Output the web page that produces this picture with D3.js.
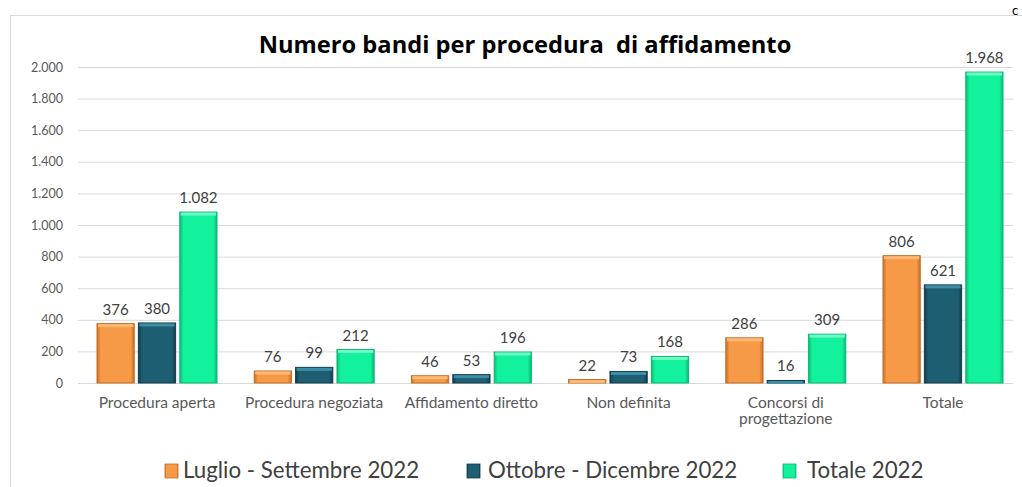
<!DOCTYPE html>
<html>
<head>
<meta charset="utf-8">
<script src="https://cdn.jsdelivr.net/npm/d3@7"></script>
<style>
  html, body { margin: 0; padding: 0; background: #fff; }
  svg { display: block; }
</style>
</head>
<body>
<svg id="chart" width="1022" height="487"></svg>
<script>
const categories = ["Procedura aperta", "Procedura negoziata", "Affidamento diretto", "Non definita", "Concorsi di progettazione", "Totale"];
const categoryLines = [["Procedura aperta"], ["Procedura negoziata"], ["Affidamento diretto"], ["Non definita"], ["Concorsi di", "progettazione"], ["Totale"]];
const seriesNames = ["Luglio - Settembre 2022", "Ottobre - Dicembre 2022", "Totale 2022"];
const lugSet = [376, 76, 46, 22, 286, 806];
const ottDic = [380, 99, 53, 73, 16, 621];
const tot2022 = [1082, 212, 196, 168, 309, 1968];
const yTicks = [0, 200, 400, 600, 800, 1000, 1200, 1400, 1600, 1800, 2000];
const seriesValues = [lugSet, ottDic, tot2022];
const colors = [
  { base: "#F79A47", light: "#FDB874", dark: "#C46E26" },
  { base: "#1E5E73", light: "#3C8EA6", dark: "#123C4A" },
  { base: "#12F29C", light: "#6FFAC6", dark: "#0DB877" }
];

const fmt = v => d3.format(",")(v).replace(/,/g, ".");
const svg = d3.select("#chart");
const font = "Lato, 'Open Sans', sans-serif";

// frame
svg.append("rect").attr("x", 10.5).attr("y", 15.5).attr("width", 1030).attr("height", 500)
  .attr("fill", "none").attr("stroke", "#d9d9d9").attr("stroke-width", 1);
svg.append("text").attr("x", 1012).attr("y", 15).attr("font-family", font).attr("font-size", 13)
  .attr("fill", "#000").text("c");

const y = d3.scaleLinear().domain([0, 2000]).range([383, 67]);
const x0 = d3.scaleBand().domain(categories).range([78.4, 1021.6]).paddingInner(0.2366).paddingOuter(0.1183);
const x1 = d3.scaleBand().domain(d3.range(3)).range([0, x0.bandwidth()]).paddingInner(0.1);

// defs: gradients
const defs = svg.append("defs");
colors.forEach((c, i) => {
  const g = defs.append("linearGradient").attr("id", "g" + i).attr("x1", 0).attr("x2", 1).attr("y1", 0).attr("y2", 0);
  g.append("stop").attr("offset", "0%").attr("stop-color", c.dark);
  g.append("stop").attr("offset", "10%").attr("stop-color", c.base);
  g.append("stop").attr("offset", "90%").attr("stop-color", c.base);
  g.append("stop").attr("offset", "100%").attr("stop-color", c.dark);
});

// gridlines + y labels
const yAxis = d3.axisLeft(y).tickValues(yTicks).tickSize(-(1013 - 78)).tickFormat(fmt).tickPadding(15);
const ga = svg.append("g").attr("transform", "translate(78,0)").call(yAxis);
ga.select(".domain").remove();
ga.selectAll(".tick line").attr("stroke", "#d9d9d9").attr("stroke-width", 1);
ga.selectAll(".tick text").attr("font-family", font).attr("font-size", 12.5).attr("fill", "#595959");

// title
svg.append("text").attr("x", 525).attr("y", 53).attr("text-anchor", "middle")
  .attr("font-family", "'Open Sans', sans-serif").attr("font-weight", "bold").attr("font-size", 23.7).attr("fill", "#000")
  .attr("xml:space", "preserve").style("white-space", "pre")
  .text("Numero bandi per procedura  di affidamento");

// bars
const groups = svg.append("g").selectAll("g").data(categories).join("g")
  .attr("transform", d => `translate(${x0(d)},0)`);
groups.each(function(cat, ci) {
  const g = d3.select(this);
  seriesValues.forEach((vals, si) => {
    const v = vals[ci];
    const bx = x1(si), bw = x1.bandwidth();
    const top = y(v), h = y(0) - y(v);
    g.append("rect").attr("x", bx).attr("y", top).attr("width", bw).attr("height", h)
      .attr("fill", `url(#g${si})`).attr("stroke", colors[si].dark).attr("stroke-width", 1);
    g.append("rect").attr("x", bx + 1).attr("y", top + 0.5).attr("width", bw - 2).attr("height", Math.min(3, h))
      .attr("fill", colors[si].light);
    g.append("text").attr("x", bx + bw / 2).attr("y", top - 9).attr("text-anchor", "middle")
      .attr("font-family", font).attr("font-size", 15).attr("fill", "#404040").text(fmt(v));
  });
});

// x labels
categoryLines.forEach((lines, ci) => {
  const cx = x0(categories[ci]) + x0.bandwidth() / 2;
  const t = svg.append("text").attr("x", cx).attr("y", 408)
    .attr("text-anchor", "middle").attr("font-family", font).attr("font-size", 15.5).attr("fill", "#595959");
  lines.forEach((l, li) => t.append("tspan").attr("x", cx).attr("dy", li ? 16 : 0).text(l));
});

// legend
const legMarkX = [165, 467, 783];
const legTextX = [183, 488, 807];
seriesNames.forEach((n, i) => {
  svg.append("rect").attr("x", legMarkX[i]).attr("y", 464).attr("width", 13).attr("height", 14)
    .attr("fill", `url(#g${i})`).attr("stroke", colors[i].dark).attr("stroke-width", 0.8);
  svg.append("text").attr("x", legTextX[i]).attr("y", 478).attr("font-family", font)
    .attr("font-size", 22.3).attr("fill", "#404040").text(n);
});
</script>
</body>
</html>
